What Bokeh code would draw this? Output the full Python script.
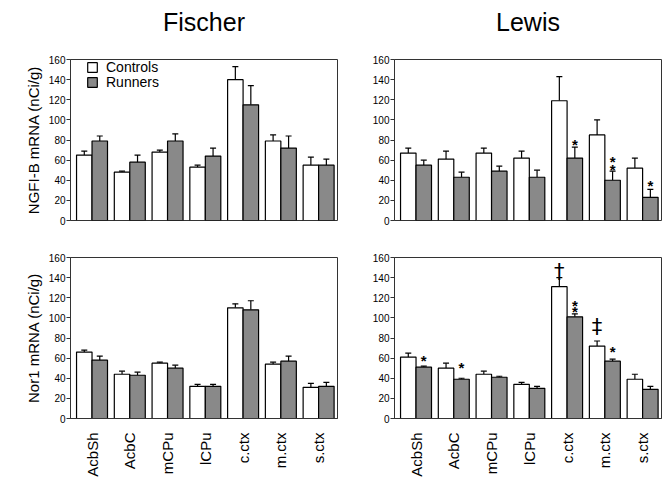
import math
from bokeh.plotting import figure
from bokeh.layouts import column, row
from bokeh.models import (ColumnDataSource, FixedTicker, Range1d, Whisker, TeeHead,
                          Legend, LegendItem, Title, Spacer)
from bokeh.core.properties import value
from bokeh.embed import file_html
from bokeh.resources import INLINE

# ---------------- data ----------------
regions = ["AcbSh", "AcbC", "mCPu", "lCPu", "c.ctx", "m.ctx", "s.ctx"]
y_ticks = [0, 20, 40, 60, 80, 100, 120, 140, 160]

# NGFI-B mRNA (nCi/g), Fischer
fis_ngfib_ctrl = [65, 48, 68, 53, 140, 79, 55]
fis_ngfib_ctrl_sem = [4, 1, 2, 2, 13, 6, 8]
fis_ngfib_run = [79, 58, 79, 64, 115, 72, 55]
fis_ngfib_run_sem = [5, 7, 7, 8, 19, 12, 6]

# NGFI-B mRNA (nCi/g), Lewis
lew_ngfib_ctrl = [67, 61, 67, 62, 119, 85, 52]
lew_ngfib_ctrl_sem = [5, 8, 5, 7, 24, 15, 10]
lew_ngfib_run = [55, 43, 49, 43, 62, 40, 23]
lew_ngfib_run_sem = [5, 5, 5, 7, 11, 9, 8]

# Nor1 mRNA (nCi/g), Fischer
fis_nor1_ctrl = [66, 44, 55, 32, 110, 54, 31]
fis_nor1_ctrl_sem = [2, 3, 1, 2, 4, 2, 4]
fis_nor1_run = [58, 43, 50, 32, 108, 57, 32]
fis_nor1_run_sem = [4, 3, 3, 2, 9, 5, 4]

# Nor1 mRNA (nCi/g), Lewis
lew_nor1_ctrl = [61, 50, 44, 34, 131, 72, 39]
lew_nor1_ctrl_sem = [4, 5, 3, 2, 9, 5, 5]
lew_nor1_run = [51, 39, 41, 30, 101, 57, 29]
lew_nor1_run_sem = [1, 1, 1, 2, 3, 2, 3]

# significance marks: region index, group (0 = Controls, 1 = Runners), symbol, y position
lew_ngfib_mark_idx = [4, 5, 5, 6]
lew_ngfib_mark_grp = [1, 1, 1, 1]
lew_ngfib_mark_txt = ["*", "*", "*", "*"]
lew_ngfib_mark_y = [80, 63, 55, 39]

lew_nor1_mark_idx = [0, 1, 4, 4, 5, 4, 5]
lew_nor1_mark_grp = [1, 1, 1, 1, 1, 0, 0]
lew_nor1_mark_txt = ["*", "*", "*", "*", "*", "\u2020", "\u2021"]
lew_nor1_mark_y = [62, 55, 116, 110, 71, 146, 91]

FONT = "Liberation Sans"
GRAY = "#898989"
BW = 0.41


def panel(ctrl, ctrl_sem, run, run_sem, title=None, ylabel=None, xlabels=False,
          legend=False, marks=None, left=62, right=5, top=42, bottom=27,
          fw=267, fh=170):
    p = figure(width=left + fw + right, height=top + fh + bottom,
               x_range=Range1d(-0.07, 7.0), y_range=Range1d(0, 160),
               output_backend="svg", toolbar_location=None,
               min_border_left=left, min_border_right=right,
               min_border_top=top, min_border_bottom=bottom)
    p.xgrid.visible = False
    p.ygrid.visible = False
    p.outline_line_color = "#333333"
    p.outline_line_width = 1
    p.background_fill_color = "white"
    p.border_fill_color = "white"

    xc = [i + 0.5 - BW / 2 for i in range(len(regions))]
    xr = [i + 0.5 + BW / 2 for i in range(len(regions))]
    sc = ColumnDataSource(dict(x=xc, top=ctrl, hi=[v + e for v, e in zip(ctrl, ctrl_sem)]))
    sr = ColumnDataSource(dict(x=xr, top=run, hi=[v + e for v, e in zip(run, run_sem)]))

    for s in (sc, sr):
        p.add_layout(Whisker(source=s, base="x", lower="top", upper="hi",
                             dimension="height", lower_head=None,
                             upper_head=TeeHead(size=6, line_width=1.2, line_color="black"),
                             line_width=1.2, line_color="black"))
    rc = p.vbar(x="x", top="top", width=BW, bottom=0, source=sc, fill_color="white",
                line_color="black", line_width=1.2)
    rr = p.vbar(x="x", top="top", width=BW, bottom=0, source=sr, fill_color=GRAY,
                line_color="black", line_width=1.2)

    if marks is not None:
        idx, grp, txt, yy = marks
        mx = [i + 0.5 + (BW / 2 if g == 1 else -BW / 2) for i, g in zip(idx, grp)]
        stars = [k for k, t in enumerate(txt) if t == "*"]
        daggers = [k for k, t in enumerate(txt) if t != "*"]
        if stars:
            p.text(x=[mx[k] for k in stars], y=[yy[k] for k in stars],
                   text=[txt[k] for k in stars], text_align="center",
                   text_baseline="middle", text_font=value(FONT),
                   text_font_size="15px", text_font_style="bold",
                   text_color="black", y_offset=4)
        if daggers:
            p.text(x=[mx[k] for k in daggers], y=[yy[k] for k in daggers],
                   text=[txt[k] for k in daggers], text_align="center",
                   text_baseline="middle", text_font=value("DejaVu Sans"),
                   text_font_size="21px", text_font_style="normal",
                   text_color="black")

    if title:
        p.add_layout(Title(text=" ", text_font_size="16px", standoff=0), "above")
        p.add_layout(Title(text=title, align="center", text_font=FONT,
                           text_font_size="25px", text_font_style="normal",
                           text_color="black"), "above")

    p.yaxis.ticker = FixedTicker(ticks=y_ticks)
    p.yaxis.major_label_text_font = FONT
    p.yaxis.major_label_text_font_size = "10px"
    p.yaxis.major_label_text_color = "black"
    p.yaxis.major_tick_out = 4
    p.yaxis.major_tick_in = 0
    p.yaxis.minor_tick_line_color = None
    p.yaxis.axis_line_color = "#333333"
    p.yaxis.major_tick_line_color = "#333333"
    p.yaxis.major_label_standoff = 1
    if ylabel:
        p.yaxis.axis_label = ylabel
        p.yaxis.axis_label_text_font = FONT
        p.yaxis.axis_label_text_font_size = "15px"
        p.yaxis.axis_label_text_font_style = "normal"
        p.yaxis.axis_label_text_color = "black"
        p.yaxis.axis_label_standoff = 4

    if xlabels:
        centers = [i + 0.5 for i in range(len(regions))]
        p.xaxis.ticker = FixedTicker(ticks=centers)
        p.xaxis.major_label_overrides = {c: r for c, r in zip(centers, regions)}
        p.xaxis.major_label_orientation = math.pi / 2
        p.xaxis.major_label_text_font = FONT
        p.xaxis.major_label_text_font_size = "15px"
        p.xaxis.major_label_text_color = "black"
        p.xaxis.major_tick_line_color = None
        p.xaxis.minor_tick_line_color = None
        p.xaxis.axis_line_color = "#333333"
        p.xaxis.major_label_standoff = 8
    else:
        p.xaxis.visible = False

    if legend:
        for lab, rend, ybot in (("Controls", rc, 145), ("Runners", rr, 130)):
            lg = Legend(items=[LegendItem(label=lab, renderers=[rend])],
                        location=(16, ybot))
            lg.background_fill_alpha = 0
            lg.border_line_color = None
            lg.label_text_font = FONT
            lg.label_text_font_size = "14px"
            lg.label_text_color = "black"
            lg.glyph_width = 12
            lg.glyph_height = 12
            lg.label_height = 12
            lg.spacing = 0
            lg.padding = 0
            lg.margin = 0
            lg.label_standoff = 8
            p.add_layout(lg)
    return p


tl = panel(fis_ngfib_ctrl, fis_ngfib_ctrl_sem, fis_ngfib_run, fis_ngfib_run_sem,
           title="Fischer", ylabel="NGFI-B mRNA (nCi/g)", legend=True,
           left=60, right=5, top=50, bottom=27)
tr = panel(lew_ngfib_ctrl, lew_ngfib_ctrl_sem, lew_ngfib_run, lew_ngfib_run_sem,
           title="Lewis", marks=(lew_ngfib_mark_idx, lew_ngfib_mark_grp,
                                 lew_ngfib_mark_txt, lew_ngfib_mark_y),
           left=52, right=2, top=50, bottom=27)
bl = panel(fis_nor1_ctrl, fis_nor1_ctrl_sem, fis_nor1_run, fis_nor1_run_sem,
           ylabel="Nor1 mRNA (nCi/g)", xlabels=True,
           left=60, right=5, top=10, bottom=52)
br = panel(lew_nor1_ctrl, lew_nor1_ctrl_sem, lew_nor1_run, lew_nor1_run_sem,
           xlabels=True, marks=(lew_nor1_mark_idx, lew_nor1_mark_grp,
                                lew_nor1_mark_txt, lew_nor1_mark_y),
           left=52, right=2, top=10, bottom=52)

layout = column(row(Spacer(width=10), tl, tr), row(Spacer(width=10), bl, br))
open("out.html", "w").write(file_html(layout, INLINE))
